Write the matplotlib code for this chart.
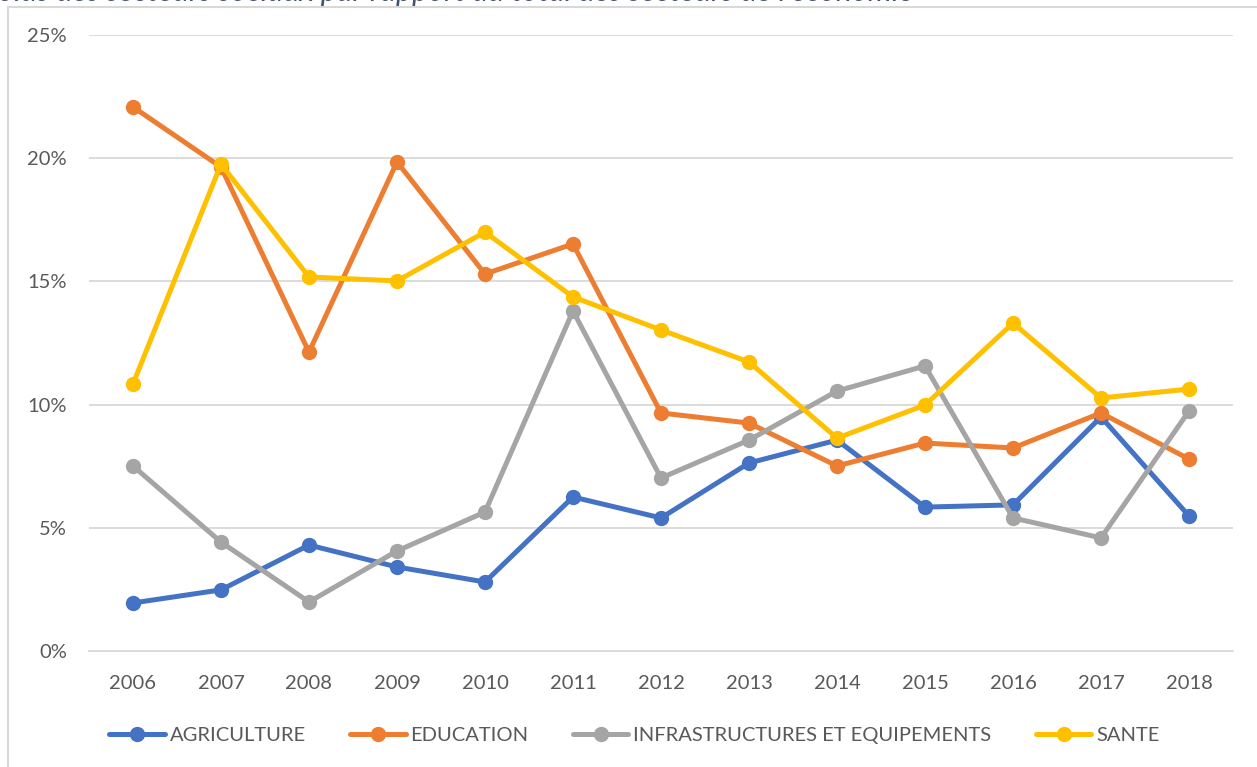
#!/usr/bin/env python3

import matplotlib.pyplot as plt
from matplotlib.patches import Rectangle
from matplotlib.ticker import PercentFormatter

# Years and shares of each sector (in %)
years = ["2006", "2007", "2008", "2009", "2010", "2011", "2012",
         "2013", "2014", "2015", "2016", "2017", "2018"]
agriculture = [1.95, 2.48, 4.30, 3.41, 2.80, 6.25, 5.40, 7.63, 8.56, 5.84, 5.93, 9.50, 5.48]
education = [22.08, 19.64, 12.13, 19.85, 15.30, 16.52, 9.66, 9.25, 7.51, 8.44, 8.24, 9.66, 7.79]
infrastructures = [7.51, 4.42, 1.99, 4.06, 5.64, 13.80, 7.02, 8.56, 10.55, 11.57, 5.40, 4.59, 9.74]
sante = [10.84, 19.76, 15.18, 15.02, 17.00, 14.37, 13.03, 11.73, 8.64, 9.98, 13.31, 10.27, 10.63]

series_names = ["AGRICULTURE", "EDUCATION", "INFRASTRUCTURES ET EQUIPEMENTS", "SANTE"]
series_values = [agriculture, education, infrastructures, sante]
colors = ["#4472C4", "#ED7D31", "#A5A5A5", "#FFC000"]

title = "Poids des secteurs sociaux par rapport au total des secteurs de l'économie"

W, H = 1257, 767
plt.rcParams['font.family'] = ['Lato', 'DejaVu Sans']
fig = plt.figure(figsize=(W / 100, H / 100), dpi=100)

# Chart frame (partly outside the picture, as in the screenshot)
fig.patches.append(Rectangle((8 / W, -0.1), 1.2, 1.1 - 7 / H,
                             transform=fig.transFigure, fill=False,
                             edgecolor="#D9D9D9", linewidth=1.5))

# Title, cut at the very top as in the screenshot
fig.text(-0.015, 1 - 0.7 / H, title, fontsize=22, style="italic",
         color="#44546A", va="baseline", ha="left")

ax = fig.add_axes([89 / W, 116 / H, (1233 - 89) / W, (732 - 116) / H])

x = list(range(len(years)))
for name, vals, col in zip(series_names, series_values, colors):
    ax.plot(x, vals, color=col, linewidth=3.6, marker="o", markersize=10,
            label=name, solid_capstyle="round")

ax.set_xlim(-0.5, len(years) - 0.5)
ax.set_ylim(0, 25)
ax.set_yticks([0, 5, 10, 15, 20, 25])
ax.yaxis.set_major_formatter(PercentFormatter(decimals=0))
ax.set_xticks(x)
ax.set_xticklabels(years)

ax.grid(axis="y", color="#D9D9D9", linewidth=1.3)
ax.set_axisbelow(True)
for side in ["top", "right", "left"]:
    ax.spines[side].set_visible(False)
ax.spines["bottom"].set_color("#D9D9D9")
ax.spines["bottom"].set_linewidth(1.3)
ax.tick_params(axis="both", length=0, labelsize=14.5, labelcolor="#595959")
ax.tick_params(axis="y", pad=16)
ax.tick_params(axis="x", pad=17)

leg = fig.legend(loc="center", bbox_to_anchor=(0.5 + 6 / W, 1 - 735 / H), ncol=4,
                 frameon=False, fontsize=14.5, handlelength=2.75,
                 handletextpad=0.25, columnspacing=2.2)
for t in leg.get_texts():
    t.set_color("#595959")

fig.savefig("out.png", dpi=100)
